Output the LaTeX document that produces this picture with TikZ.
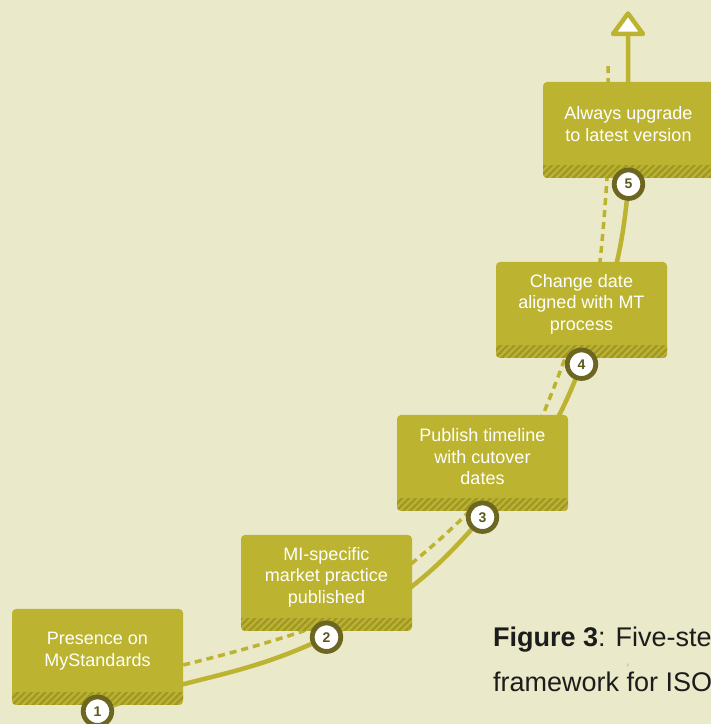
\documentclass[tikz,border=0pt]{standalone}
\usepackage{fontspec}
\setmainfont{Liberation Sans}
\usetikzlibrary{positioning,patterns.meta}
\definecolor{pagebg}{RGB}{234,233,202}
\definecolor{stepolive}{RGB}{188,180,48}
\definecolor{stepstripe}{RGB}{160,152,38}
\definecolor{ringolive}{RGB}{108,102,33}
\definecolor{numolive}{RGB}{92,87,28}
\definecolor{captext}{RGB}{28,28,28}
\pgfdeclarelayer{bg}
\pgfsetlayers{bg,main}

\tikzset{
  stepbox/.style={rectangle, rounded corners=4pt, fill=stepolive,
    minimum width=171pt, minimum height=96pt, inner sep=0pt,
    path picture={\fill[sharp corners, pattern={Lines[angle=45,distance=4.8pt,line width=2.4pt]},
      pattern color=stepstripe] (path picture bounding box.south west)
      rectangle ([yshift=12pt]path picture bounding box.south east);}},
  steptext/.style={text=white, align=center, font=\fontsize{18}{21.5}\selectfont},
  stepnum/.style={circle, fill=white, draw=ringolive, line width=4.8pt, minimum size=28.5pt,
    inner sep=0pt, text=numolive, font=\fontsize{14}{14}\selectfont\bfseries},
  pathline/.style={stepolive, line width=4.5pt},
  planline/.style={stepolive, line width=3.5pt, dash pattern=on 7pt off 5pt},
  caption/.style={text=captext, inner sep=0pt, anchor=base west, font=\fontsize{27}{27}\selectfont}
}

\begin{document}
\begin{tikzpicture}[x=1pt,y=1pt]
  \useasboundingbox (0,0) rectangle (711,724);
  % steps
  \node[stepbox] (s1) at (97.5,67) {};
  \node[stepbox] (s2) at (326.5,141) {};
  \node[stepbox] (s3) at (482.5,261) {};
  \node[stepbox] (s4) at (581.5,414) {};
  \node[stepbox] (s5) at (628.5,594) {};
  \node[steptext] (t1) at ([yshift=6pt]s1.center) {Presence on\\MyStandards};
  \node[steptext] (t2) at ([yshift=6pt]s2.center) {MI-specific\\market practice\\published};
  \node[steptext] (t3) at ([yshift=6pt]s3.center) {Publish timeline\\with cutover\\dates};
  \node[steptext] (t4) at ([yshift=6pt]s4.center) {Change date\\aligned with MT\\process};
  \node[steptext] (t5) at ([yshift=6pt]s5.center) {Always upgrade\\to latest version};
  \foreach \i in {1,...,5}
    \node[stepnum] (n\i) at ([yshift=-6pt]s\i.south) {\i};
  \coordinate (top) at (628,690);
  \coordinate (dtop) at (608,662);
  % lines behind the steps
  \begin{pgfonlayer}{bg}
    \fill[pagebg] (0,0) rectangle (711,724);
    \draw[pathline] (n1) to[out=20,in=204] (n2) to[out=27,in=228] (n3)
      to[out=48,in=248] (n4) to[out=68,in=264] (n5) -- (top);
    \draw[planline] ([yshift=-8pt]s1.east) to[out=14,in=198] ([xshift=-23.5pt]s2.south)
      -- ([yshift=20pt]s2.east) to[out=40,in=225] ([xshift=-13pt]s3.south)
      -- ([xshift=60.5pt]s3.north) to[out=68,in=250] ([xshift=-16.5pt]s4.south)
      -- ([xshift=18.5pt]s4.north) to[out=84,in=266] ([xshift=-21.5pt]s5.south)
      -- ([xshift=-20.5pt]s5.north) -- (dtop);
  \end{pgfonlayer}
  \draw[pathline, fill=white, line join=round] (top) -- ++(15,0) -- (628,710.5) -- (613,690) -- cycle;
  % caption
  \node[caption] (cap1) at (493,77) {\textbf{Figure 3}: Five-ste};
  \node[caption] (cap2) at ([yshift=-45pt]cap1.base west) {framework for ISO};
  \node[text=captext!60, inner sep=0pt, font=\fontsize{5}{5}\selectfont] (mark) at (628,58) {!};
\end{tikzpicture}
\end{document}
